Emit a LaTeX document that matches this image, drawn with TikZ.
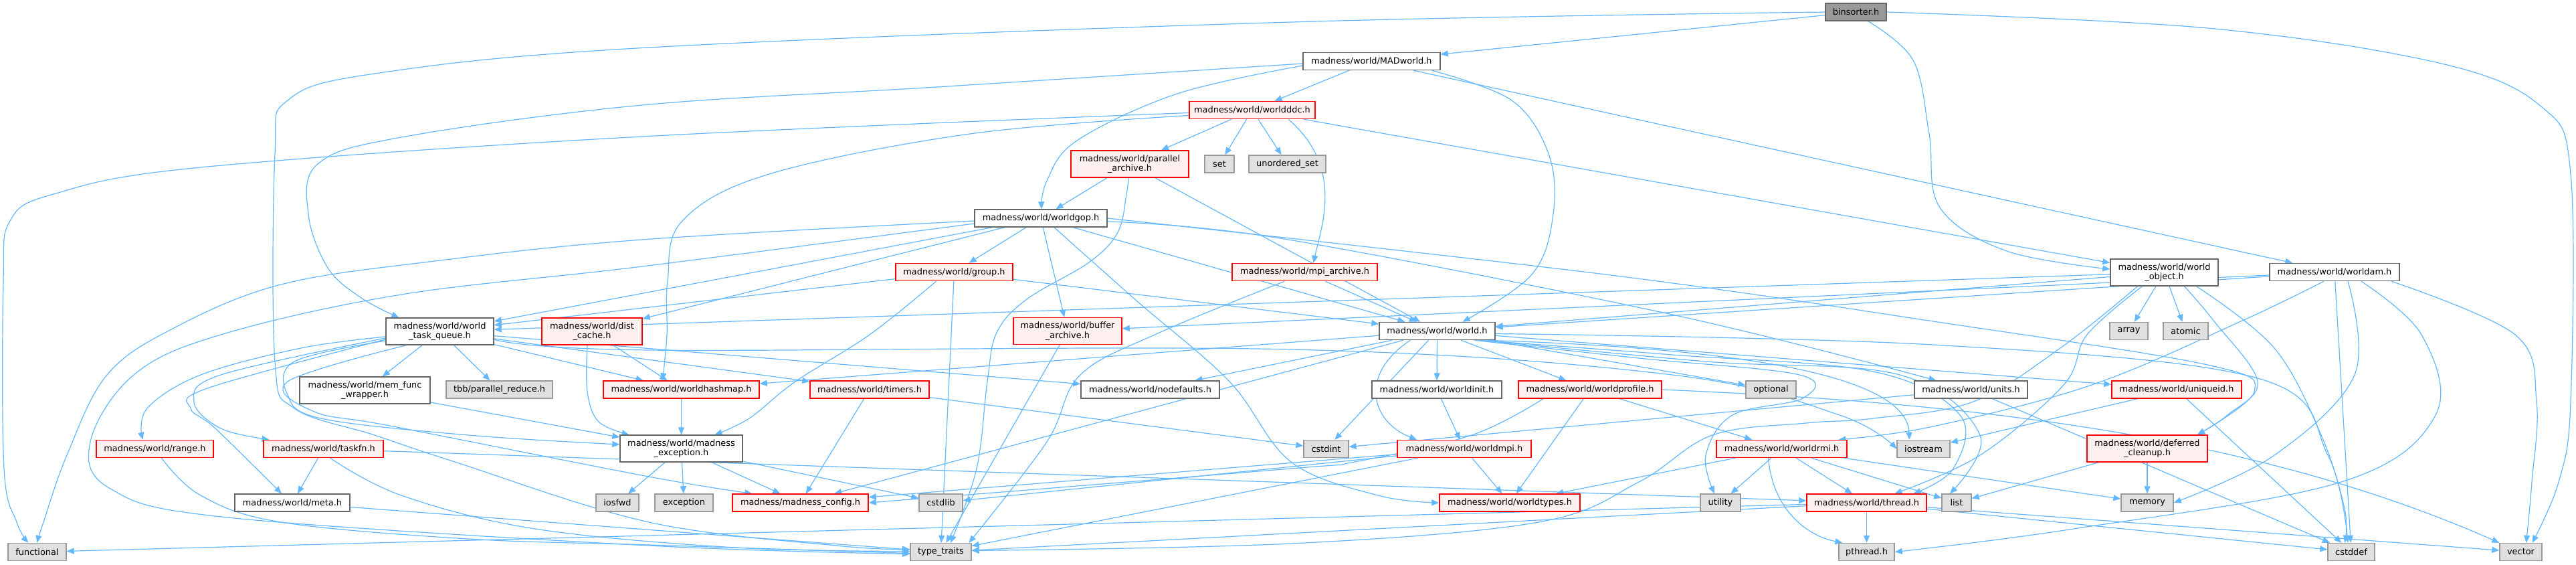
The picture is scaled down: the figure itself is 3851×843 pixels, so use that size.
\documentclass[tikz,border=0pt]{standalone}
\usepackage{fontspec}
\setmainfont{DejaVu Sans}
\usetikzlibrary{arrows.meta,backgrounds}
\definecolor{eb}{HTML}{63B8FF}
\definecolor{rB}{HTML}{FF0000}
\definecolor{rF}{HTML}{FFF0F0}
\definecolor{gB}{HTML}{999999}
\definecolor{gF}{HTML}{E0E0E0}
\definecolor{wB}{HTML}{666666}
\definecolor{rootF}{HTML}{999999}
\tikzset{
 box/.style={rectangle, inner sep=0pt, align=center, line width=1.4pt,
   font=\fontsize{12.9}{14.5}\selectfont, minimum height=26pt},
 rn/.style={box, draw=rB, fill=rF},
 gn/.style={box, draw=gB, fill=gF},
 wn/.style={box, draw=wB, fill=white},
 rootn/.style={box, draw=wB, fill=rootF},
 tall/.style={minimum height=40pt},
 edg/.style={draw=eb, line width=1.2pt, -{Triangle[length=11pt,width=9pt]}},
}
\begin{document}
\begin{tikzpicture}[x=1pt,y=-1pt]
\useasboundingbox (0,0) rectangle (3851,843);
% nodes
\node[rootn, minimum width=91] (bin) at (2774.5,18) {binsorter.h};
\node[wn, minimum width=205] (mad) at (2050.5,91.5) {madness/world/MADworld.h};
\node[rn, minimum width=188] (ddc) at (1872,164.5) {madness/world/worldddc.h};
\node[rn, tall, minimum width=176] (par) at (1689,245) {madness/world/parallel\\\_archive.h};
\node[gn, minimum width=44] (set) at (1823,245) {set};
\node[gn, minimum width=115] (uset) at (1924.5,245) {unordered\_set};
\node[wn, minimum width=198] (gop) at (1556,326) {madness/world/worldgop.h};
\node[wn, tall, minimum width=161] (obj) at (3235.5,407) {madness/world/world\\\_object.h};
\node[wn, minimum width=194] (wam) at (3490,406.5) {madness/world/worldam.h};
\node[rn, minimum width=175] (grp) at (1426.5,406.5) {madness/world/group.h};
\node[rn, minimum width=217] (mpia) at (1950.5,406.5) {madness/world/mpi\_archive.h};
\node[wn, tall, minimum width=161] (wtq) at (657.5,495) {madness/world/world\\\_task\_queue.h};
\node[rn, tall, minimum width=150] (dc) at (885,495) {madness/world/dist\\\_cache.h};
\node[rn, tall, minimum width=162] (buf) at (1596,494.5) {madness/world/buffer\\\_archive.h};
\node[wn, minimum width=173] (wh) at (2148.5,494.5) {madness/world/world.h};
\node[gn, minimum width=57] (arr) at (3182.5,494.5) {array};
\node[gn, minimum width=67] (atm) at (3267.5,494.5) {atomic};
\node[wn, tall, minimum width=195] (mfw) at (545.5,583) {madness/world/mem\_func\\\_wrapper.h};
\node[gn, minimum width=159] (tbb) at (746.5,582) {tbb/parallel\_reduce.h};
\node[rn, minimum width=233] (whm) at (1018.5,582) {madness/world/worldhashmap.h};
\node[rn, minimum width=178] (tim) at (1300,582) {madness/world/timers.h};
\node[wn, minimum width=207] (ndf) at (1719.5,582) {madness/world/nodefaults.h};
\node[wn, minimum width=194] (wini) at (2148,582) {madness/world/worldinit.h};
\node[rn, minimum width=214] (wprof) at (2377,582) {madness/world/worldprofile.h};
\node[gn, minimum width=75] (opt) at (2647.5,582) {optional};
\node[wn, minimum width=169] (unit) at (2946.5,582) {madness/world/units.h};
\node[rn, minimum width=194] (uid) at (3254,582) {madness/world/uniqueid.h};
\node[rn, minimum width=175] (rng) at (231.5,670.5) {madness/world/range.h};
\node[rn, minimum width=179] (tfn) at (483.5,670.5) {madness/world/taskfn.h};
\node[wn, tall, minimum width=183] (mex) at (1018.5,670) {madness/world/madness\\\_exception.h};
\node[gn, minimum width=67] (cint) at (1982.5,670.5) {cstdint};
\node[rn, minimum width=200] (wmpi) at (2189,670.5) {madness/world/worldmpi.h};
\node[rn, minimum width=195] (wrmi) at (2663.5,670.5) {madness/world/worldrmi.h};
\node[gn, minimum width=79] (ios) at (2875.5,670.5) {iostream};
\node[rn, tall, minimum width=180] (dfc) at (3210,670) {madness/world/deferred\\\_cleanup.h};
\node[wn, minimum width=172] (meta) at (437,751) {madness/world/meta.h};
\node[gn, minimum width=64] (iosf) at (923,751) {iosfwd};
\node[gn, minimum width=87] (exc) at (1022.5,751) {exception};
\node[rn, minimum width=203] (cfg) at (1196.5,751) {madness/madness\_config.h};
\node[gn, minimum width=65] (cstl) at (1406.5,751) {cstdlib};
\node[rn, minimum width=210] (wty) at (2257,751) {madness/world/worldtypes.h};
\node[gn, minimum width=60] (utl) at (2572,751) {utility};
\node[rn, minimum width=179] (thr) at (2790.5,751) {madness/world/thread.h};
\node[gn, minimum width=44] (lst) at (2925,751) {list};
\node[gn, minimum width=78] (mem) at (3210,751) {memory};
\node[gn, minimum width=87] (fun) at (55.5,824.5) {functional};
\node[gn, minimum width=91] (tt) at (1406.5,824.5) {type\_traits};
\node[gn, minimum width=83] (pth) at (2790.5,824.5) {pthread.h};
\node[gn, minimum width=70] (csd) at (3515,824.5) {cstddef};
\node[gn, minimum width=63] (vec) at (3768.5,824.5) {vector};

\begin{pgfonlayer}{background}
\fill[white] (0,0) rectangle (3851,843);
% binsorter
\draw[edg] (bin) -- (mad);
\draw[edg] plot[smooth,tension=0.6] coordinates {([xshift=18pt]bin.south) (2860,90) (2884,200) (2900,310) (3000,375) ([yshift=5pt]obj.west)};
\draw[edg] plot[smooth,tension=0.6] coordinates {(bin.east) (3300,42) (3650,95) (3800,160) (3843,260) (3843,600) (3825,720) ([xshift=17pt]vec.north)};
\draw[edg] plot[smooth,tension=0.6] coordinates {(bin.west) (1930,33) (970,71) (560,110) (430,150) (411,230) (411,540) (440,610) (560,650) (680,690) (970,780) (1250,815) ([yshift=4pt]tt.west)};
% MADworld
\draw[edg] (mad) -- (ddc);
\draw[edg] plot[smooth,tension=0.6] coordinates {([yshift=-6.5pt]mad.west) (1760,140) (1610,210) (1565,270) ([xshift=1pt]gop.north)};
\draw[edg] plot[smooth,tension=0.6] coordinates {([yshift=-3.5pt]mad.west) (1400,130) (960,157) (600,205) (475,245) (461,320) (490,400) (540,445) ([xshift=20pt]wtq.north west)};
\draw[edg] plot[smooth,tension=0.6] coordinates {([xshift=90pt]mad.south) (2260,150) (2315,230) (2322,320) (2290,410) ([xshift=38pt]wh.north)};
\draw[edg] (mad) -- (wam);
% worldddc
\draw[edg] plot[smooth,tension=0.6] coordinates {([yshift=-4pt]ddc.west) (960,204) (300,250) (80,290) (15,330) (5,420) (6,700) (25,780) ([xshift=31pt]fun.north west)};
\draw[edg] plot[smooth,tension=0.6] coordinates {([yshift=-8pt]ddc.west) (1450,200) (1150,260) (1020,330) (998,420) (997,500) ([xshift=-28pt]whm.north)};
\draw[edg] (ddc) -- (par);
\draw[edg] (ddc) -- (set);
\draw[edg] (ddc) -- (uset);
\draw[edg] ([xshift=54pt]ddc.south) .. controls (2010,250) and (1975,340) .. ([xshift=13pt]mpia.north);
\draw[edg] (ddc) -- (obj);
% parallel_archive
\draw[edg] (par) -- (gop);
\draw[edg] plot[smooth,tension=0.6] coordinates {([xshift=-2pt]par.south) (1684,290) (1671,347) (1628,392) (1535,447) (1490,497) (1476,570) (1460,700) ([xshift=14.5pt]tt.north)};
\draw[edg] (par) -- (wh);
% worldgop
\draw[edg] plot[smooth,tension=0.6] coordinates {([yshift=-4pt]gop.west) (960,358) (650,390) (420,425) (260,490) (160,560) (100,680) (65,780) ([xshift=44pt]fun.north west)};
\draw[edg] plot[smooth,tension=0.6] coordinates {([yshift=-8pt]gop.west) (960,398) (600,440) (330,500) (200,560) (135,660) (165,730) (340,773) (970,815) ([yshift=-3pt]tt.west)};
\draw[edg] (gop) -- (wtq);
\draw[edg] (gop) -- (dc);
\draw[edg] (gop) -- (grp);
\draw[edg] (gop) -- (buf);
\draw[edg] (gop) -- (wh);
\draw[edg] plot[smooth,tension=0.6] coordinates {([xshift=20pt]gop.south) (1700,450) (1838,570) (1930,690) (2060,740) (wty.west)};
\draw[edg] plot[smooth,tension=0.6] coordinates {(gop.east) (2400,410) (2890,480) (3300,545) (3370,585) ([xshift=75pt]dfc.north)};
\draw[edg] plot[smooth,tension=0.6] coordinates {([yshift=-5pt]gop.east) (1920,357) (2500,470) ([xshift=-52pt]unit.north)};
% group
\draw[edg] (grp) -- (wtq);
\draw[edg] (grp) -- (wh);
\draw[edg] plot[smooth,tension=0.6] coordinates {([xshift=-27pt]grp.south) (1300,500) (1189,570) (1120,625) ([xshift=50pt]mex.north)};
\draw[edg] (grp) -- (tt);
% mpi_archive
\draw[edg] (mpia) -- (wh);
\draw[edg] plot[smooth,tension=0.6] coordinates {([xshift=-30pt]mpia.south) (1733,497) (1615,560) (1565,660) ([xshift=42pt]tt.north)};
% world_task_queue
\draw[edg] plot[smooth,tension=0.6] coordinates {([yshift=-8pt]wtq.west) (450,520) (300,560) (220,610) ([xshift=-18pt]rng.north)};
\draw[edg] plot[smooth,tension=0.6] coordinates {([yshift=-10pt]wtq.west) (330,560) (290,600) (330,640) ([xshift=-81pt]tfn.north)};
\draw[edg] plot[smooth,tension=0.6] coordinates {([yshift=-12pt]wtq.west) (310,580) (285,610) (322,640) ([xshift=-16pt]meta.north)};
\draw[edg] (wtq) -- (mfw);
\draw[edg] (wtq) -- (tbb);
\draw[edg] plot[smooth,tension=0.6] coordinates {([yshift=-14pt]wtq.west) (440,540) (430,590) (480,625) (700,650) ([yshift=6pt]mex.west)};
\draw[edg] (wtq) -- (whm);
\draw[edg] (wtq) -- (tim);
\draw[edg] (wtq) -- (ndf);
\draw[edg] plot[smooth,tension=0.6] coordinates {([xshift=-50pt]wtq.south) (430,570) (470,615) (588,637) (970,712) ([xshift=-72pt]cfg.north)};
\draw[edg] plot[smooth,tension=0.6] coordinates {([yshift=-12pt]wtq.east) (970,523) (1930,522) (2500,560) (2750,620) (ios.west)};
% dist_cache
\draw[edg] (dc) -- (whm);
\draw[edg] plot[smooth,tension=0.6] coordinates {([xshift=-7pt]dc.south) (878,585) (895,630) ([xshift=-78pt]mex.north)};
% singles
\draw[edg] (buf) -- (tt);
\draw[edg] (mfw) -- (mex);
\draw[edg] (whm) -- (mex);
\draw[edg] (tim) -- (cfg);
\draw[edg] (tim) -- (cint);
\draw[edg] plot[smooth,tension=0.6] coordinates {([xshift=10pt]rng.south) (300,740) (420,780) (700,805) (970,814) ([yshift=-2pt]tt.west)};
\draw[edg] (tfn) -- (meta);
\draw[edg] (tfn) -- (thr);
\draw[edg] plot[smooth,tension=0.6] coordinates {([xshift=10pt]tfn.south) (600,740) (800,790) (1100,818) ([yshift=1pt]tt.west)};
\draw[edg] (meta) -- (tt);
\draw[edg] (mex) -- (iosf);
\draw[edg] (mex) -- (exc);
\draw[edg] (mex) -- (cfg);
\draw[edg] (mex) -- (cstl);
% world.h
\draw[edg] (wh) -- (wini);
\draw[edg] (wh) -- (wprof);
\draw[edg] (wh) -- (opt);
\draw[edg] (wh) -- (whm);
\draw[edg] (wh) -- (ndf);
\draw[edg] (wh) -- (cfg);
\draw[edg] (wh) -- (cint);
\draw[edg] ([xshift=-40pt]wh.south) .. controls (2030,560) and (2050,630) .. ([xshift=-71pt]wmpi.north);
\draw[edg] (wh) -- (uid);
\draw[edg] ([xshift=70pt]wh.south) .. controls (2600,520) and (2850,560) .. ([xshift=-21pt]ios.north);
\draw[edg] plot[smooth,tension=0.6] coordinates {([xshift=55pt]wh.south) (2450,535) (2690,560) (2695,595) (2590,620) (2550,680) ([xshift=-9pt]utl.north)};
\draw[edg] plot[smooth,tension=0.6] coordinates {([xshift=62pt]wh.south) (2500,530) (2800,555) (2930,620) (2920,700) ([xshift=70pt]thr.north)};
\draw[edg] plot[smooth,tension=0.6] coordinates {([xshift=65pt]wh.south) (2550,540) (2840,560) (2960,650) ([xshift=-10pt]lst.north)};
\draw[edg] plot[smooth,tension=0.6] coordinates {([yshift=-4pt]wh.east) (2890,515) (3375,565) (3480,680) ([xshift=-5pt]csd.north)};
% lower
\draw[edg] (wini) -- (wmpi);
\draw[edg] (wprof) -- (wty);
\draw[edg] (wprof) -- (wrmi);
\draw[edg] plot[smooth,tension=0.6] coordinates {([xshift=-70pt]wprof.south) (2200,650) (2025,690) (1930,700) (cfg.east)};
\draw[edg] (wprof.east) .. controls (2900,600) and (3350,640) .. (vec.north west);
\draw[edg] (unit) -- (cint);
\draw[edg] (unit) -- (csd);
\draw[edg] (wmpi) -- (wty);
\draw[edg] (wmpi) -- (cfg);
\draw[edg] (wmpi) -- (cstl);
\draw[edg] (wmpi) -- (tt);
\draw[edg] (wrmi) -- (wty);
\draw[edg] (wrmi) -- (utl);
\draw[edg] (wrmi) -- (thr);
\draw[edg] ([xshift=-20pt]wrmi.south) .. controls (2650,760) and (2700,800) .. ([xshift=-36pt]pth.north);
\draw[edg] (wrmi) -- (lst);
\draw[edg] (wrmi) -- (mem);
\draw[edg] (uid) -- (ios);
\draw[edg] (uid) -- (csd);
\draw[edg] (dfc) -- (lst);
\draw[edg] (dfc) -- (mem);
\draw[edg] (thr) -- (pth);
\draw[edg] (thr) -- (csd);
\draw[edg] (thr) -- (vec);
\draw[edg] (thr) -- (tt);
\draw[edg] (thr) -- (fun);
% world_object
\draw[edg] (obj) -- (wh);
\draw[edg] (obj) -- (wtq);
\draw[edg] (obj) -- (arr);
\draw[edg] (obj) -- (atm);
\draw[edg] plot[smooth,tension=0.6] coordinates {([xshift=-33pt]obj.south) (3120,500) (3085,575) (2960,680) ([xshift=42pt]thr.north)};
\draw[edg] plot[smooth,tension=0.6] coordinates {([xshift=-40pt]obj.south) (3080,520) (2950,600) (2800,625) (2700,632) (2560,650) (2450,720) (2300,780) (1930,812) ([yshift=2pt]tt.east)};
\draw[edg] plot[smooth,tension=0.6] coordinates {([xshift=30pt]obj.south) (3310,480) (3375,570) (3330,620) ([xshift=75pt]dfc.north)};
\draw[edg] plot[smooth,tension=0.6] coordinates {([xshift=48pt]obj.south) (3400,520) (3470,650) (3505,760) ([xshift=-10pt]csd.north)};
% worldam
\draw[edg] (wam) -- (wh);
\draw[edg] (wam) -- (buf);
\draw[edg] plot[smooth,tension=0.6] coordinates {([xshift=-16pt]wam.south) (3350,480) (3127,575) (2890,637) ([xshift=85pt]wrmi.north)};
\draw[edg] (wam) -- (csd);
\draw[edg] plot[smooth,tension=0.6] coordinates {([xshift=20pt]wam.south) (3520,560) (3400,680) (mem.east)};
\draw[edg] plot[smooth,tension=0.6] coordinates {([xshift=40pt]wam.south) (3620,500) (3641,620) (3500,720) (3100,790) (pth.east)};
\draw[edg] plot[smooth,tension=0.6] coordinates {([xshift=85pt]wam.south) (3760,500) (3792,600) (3785,720) ([xshift=8pt]vec.north)};
\end{pgfonlayer}
\end{tikzpicture}
\end{document}
